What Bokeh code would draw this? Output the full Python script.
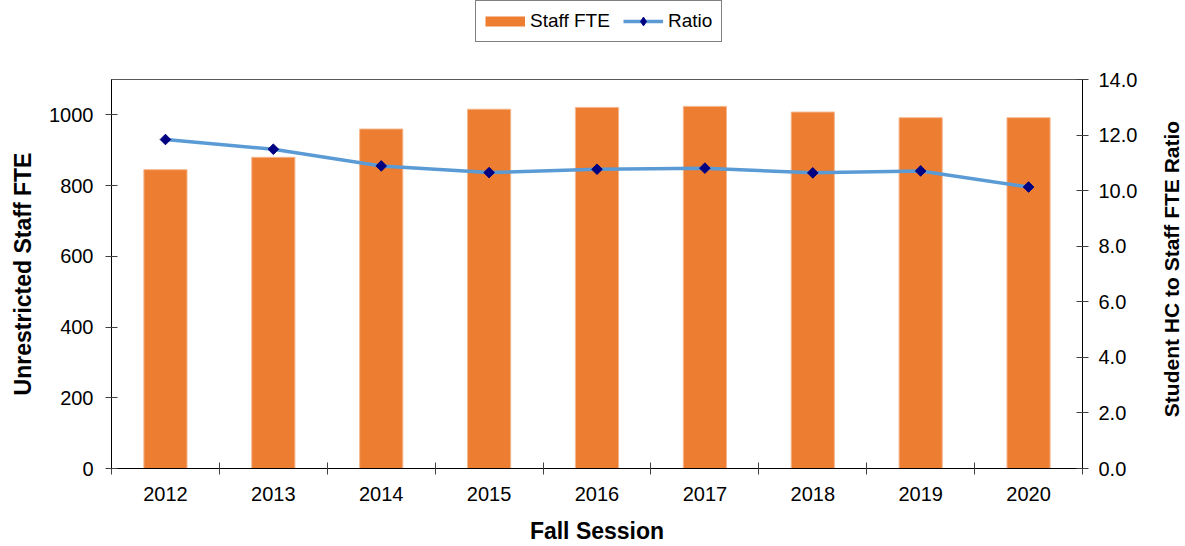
import math
from bokeh.plotting import figure
from bokeh.layouts import column, row
from bokeh.models import (Range1d, LinearAxis, FixedTicker, NumeralTickFormatter,
                          Legend, LegendItem, ColumnDataSource, Label)
from bokeh.embed import file_html
from bokeh.resources import INLINE

years = [2012, 2013, 2014, 2015, 2016, 2017, 2018, 2019, 2020]
staff_fte = [845, 880, 960, 1016, 1021, 1024, 1008, 992, 992]
ratio = [11.84, 11.49, 10.89, 10.65, 10.77, 10.81, 10.64, 10.71, 10.13]
left_ticks = [0, 200, 400, 600, 800, 1000]
right_ticks = [0, 2, 4, 6, 8, 10, 12, 14]
series_names = ["Staff FTE", "Ratio"]
right_title = "Student HC to Staff FTE Ratio"

FONT = "Liberation Sans"
ORANGE = "#ED7D31"
BLUE = "#5B9BD5"
NAVY = "#000080"

TOP_H = 60
RIGHT_W = 30
MAIN_H = 546 - TOP_H
FRAME_BOTTOM = 468  # page y of the plot frame's bottom edge

# ---------------- legend strip ----------------
lg = figure(width=1185, height=TOP_H, output_backend="svg", toolbar_location=None,
            x_range=Range1d(0, 1), y_range=Range1d(0, 1),
            min_border_left=0, min_border_right=0, min_border_top=0, min_border_bottom=0,
            x_axis_location=None, y_axis_location=None)
lg.grid.visible = False
lg.outline_line_color = None
# proxies drawn outside the visible range; only their legend glyphs show
px = ColumnDataSource(dict(x=[5, 6], y=[5, 6]))
sw = lg.line(x="x", y="y", source=px, line_color=ORANGE, line_width=10)
pl = lg.line(x="x", y="y", source=px, line_color=BLUE, line_width=3.5)
pm = lg.scatter(x="x", y="y", source=px, marker="diamond", size=14,
                fill_color=NAVY, line_color=NAVY)
legend = Legend(items=[LegendItem(label=series_names[0], renderers=[sw]),
                       LegendItem(label=series_names[1], renderers=[pl, pm])],
                orientation="horizontal", location=(475, TOP_H - 42),
                glyph_width=40, glyph_height=22, label_standoff=5, spacing=13,
                padding=9, margin=0,
                label_text_font=FONT, label_text_font_size="19px",
                label_text_color="black",
                border_line_color="#808080", border_line_width=1, border_line_alpha=1,
                background_fill_color="white", background_fill_alpha=1)
lg.add_layout(legend, "center")

# ---------------- main chart ----------------
src = ColumnDataSource(dict(year=years, staff=staff_fte, ratio=ratio))

p = figure(width=1185 - RIGHT_W, height=MAIN_H, output_backend="svg", toolbar_location=None,
           x_range=Range1d(2011.5, 2020.5), y_range=Range1d(0, 1100),
           min_border_left=111, min_border_right=1185 - RIGHT_W - 1082,
           min_border_top=79 - TOP_H,
           min_border_bottom=78, x_axis_location=None, y_axis_location=None)
p.grid.visible = False
p.outline_line_color = "#595959"
p.outline_line_width = 1

p.extra_y_ranges = {"r": Range1d(0, 14)}

xaxis = LinearAxis(ticker=FixedTicker(ticks=years,
                                      minor_ticks=[y - 0.5 for y in years] + [years[-1] + 0.5]))
xaxis.major_label_overrides = {y: str(y) for y in years}
xaxis.major_tick_line_color = None
xaxis.major_tick_in = 6
xaxis.major_tick_out = 6
xaxis.minor_tick_in = 6
xaxis.minor_tick_out = 6
xaxis.minor_tick_line_color = "#404040"
xaxis.axis_line_color = "black"
xaxis.major_label_text_font = FONT
xaxis.major_label_text_font_size = "20px"
xaxis.major_label_text_color = "black"
xaxis.major_label_standoff = 12
xaxis.axis_label = "Fall Session"
xaxis.axis_label_text_font = FONT
xaxis.axis_label_text_font_size = "23px"
xaxis.axis_label_text_font_style = "bold"
xaxis.axis_label_text_color = "black"
xaxis.axis_label_standoff = 14
p.add_layout(xaxis, "below")

yaxis = LinearAxis(ticker=FixedTicker(ticks=left_ticks, minor_ticks=[]))
yaxis.major_tick_in = 6
yaxis.major_tick_out = 6
yaxis.major_tick_line_color = "#404040"
yaxis.axis_line_color = "black"
yaxis.major_label_text_font = FONT
yaxis.major_label_text_font_size = "20px"
yaxis.major_label_text_color = "black"
yaxis.major_label_standoff = 12
yaxis.axis_label = "Unrestricted Staff FTE"
yaxis.axis_label_text_font = FONT
yaxis.axis_label_text_font_size = "23px"
yaxis.axis_label_text_font_style = "bold"
yaxis.axis_label_text_color = "black"
yaxis.axis_label_standoff = 10
p.add_layout(yaxis, "left")

raxis = LinearAxis(y_range_name="r", ticker=FixedTicker(ticks=right_ticks, minor_ticks=[]),
                   formatter=NumeralTickFormatter(format="0.0"))
raxis.major_tick_in = 6
raxis.major_tick_out = 6
raxis.major_tick_line_color = "#404040"
raxis.axis_line_color = "black"
raxis.major_label_text_font = FONT
raxis.major_label_text_font_size = "20px"
raxis.major_label_text_color = "black"
raxis.major_label_standoff = 10
p.add_layout(raxis, "right")

p.vbar(x="year", top="staff", width=0.4, source=src,
       fill_color=ORANGE, line_color="#F5B78E", line_width=1)
p.line(x="year", y="ratio", source=src, y_range_name="r",
       line_color=BLUE, line_width=3.5)
p.scatter(x="year", y="ratio", source=src, y_range_name="r",
          marker="square", angle=math.pi / 4, size=7.5,
          fill_color=NAVY, line_color=NAVY, line_width=1)

# ---------------- right axis title strip ----------------
rf = figure(width=RIGHT_W, height=MAIN_H, output_backend="svg", toolbar_location=None,
            x_range=Range1d(0, 1), y_range=Range1d(0, 1),
            min_border_left=0, min_border_right=0, min_border_top=0, min_border_bottom=0,
            x_axis_location=None, y_axis_location=None)
rf.grid.visible = False
rf.outline_line_color = None
# the strip's frame is aligned with the main frame (bottom at page y 468)
rf.add_layout(Label(x=16, y=FRAME_BOTTOM - 268.5, x_units="screen", y_units="screen",
                    text=right_title, angle=math.pi / 2,
                    text_align="center", text_baseline="middle",
                    text_font=FONT, text_font_size="21px", text_font_style="bold",
                    text_color="black"))

layout = column(lg, row(p, rf, spacing=0), spacing=0)
open("out.html", "w").write(file_html(layout, INLINE))
